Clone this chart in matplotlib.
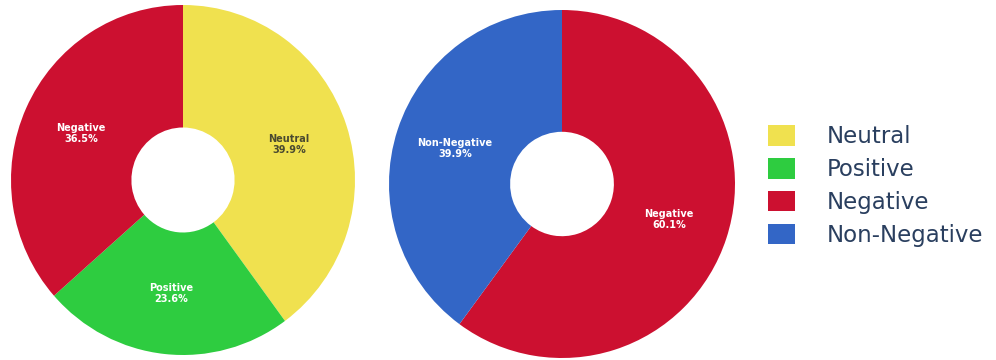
import matplotlib
matplotlib.use("Agg")
import numpy as np
import matplotlib.pyplot as plt
from matplotlib.patches import Patch

# Sentiment breakdown (three classes) and binary negative split
sent_labels = ["Neutral", "Positive", "Negative"]
sent_values = [39.9, 23.6, 36.5]

bin_labels = ["Negative", "Non-Negative"]
bin_values = [60.1, 39.9]

legend_labels = ["Neutral", "Positive", "Negative", "Non-Negative"]

colors = {
    "Neutral": "#F0E14F",
    "Positive": "#2ECC40",
    "Negative": "#CC1030",
    "Non-Negative": "#3366C6",
}
text_colors = {
    "Neutral": "#4a4a30",
    "Positive": "white",
    "Negative": "white",
    "Non-Negative": "white",
}

plt.rcParams["font.family"] = ["DejaVu Sans"]

W, H = 996, 360
fig = plt.figure(figsize=(W / 100, H / 100), dpi=100)

HOLE = 0.3


def donut(cx, cy, rx, ry, labels, values):
    # cx, cy, rx, ry in pixels, cy measured from the top edge
    ax = fig.add_axes([(cx - rx) / W, (H - cy - ry) / H, 2 * rx / W, 2 * ry / H])
    ax.pie(
        values,
        colors=[colors[l] for l in labels],
        startangle=90,
        counterclock=False,
        radius=1.0,
        wedgeprops=dict(width=1 - HOLE, edgecolor="none"),
    )
    total = sum(values)
    r_text = (1 + HOLE) / 2
    start = 90.0
    for lab, val in zip(labels, values):
        sweep = 360.0 * val / total
        mid = np.deg2rad(start - sweep / 2)
        x, y = r_text * np.cos(mid), r_text * np.sin(mid)
        ax.text(x, y, f"{lab}\n{val:.1f}%", ha="center", va="center",
                fontsize=7, color=text_colors[lab], fontweight="bold",
                linespacing=1.15)
        start -= sweep
    ax.set_xlim(-1, 1)
    ax.set_ylim(-1, 1)
    ax.set_aspect("auto")
    ax.axis("off")
    return ax


donut(183, 180, 172, 175, sent_labels, sent_values)
donut(562, 184, 173, 174, bin_labels, bin_values)

handles = [Patch(facecolor=colors[l], edgecolor="none", label=l) for l in legend_labels]
fig.legend(
    handles=handles,
    loc="center left",
    bbox_to_anchor=(747 / W, (H - 186) / H),
    frameon=False,
    fontsize=16.5,
    handlelength=1.18,
    handleheight=1.0,
    handletextpad=1.4,
    labelspacing=0.42,
    labelcolor="#2a3f5f",
)

fig.savefig("out.png", dpi=100)
